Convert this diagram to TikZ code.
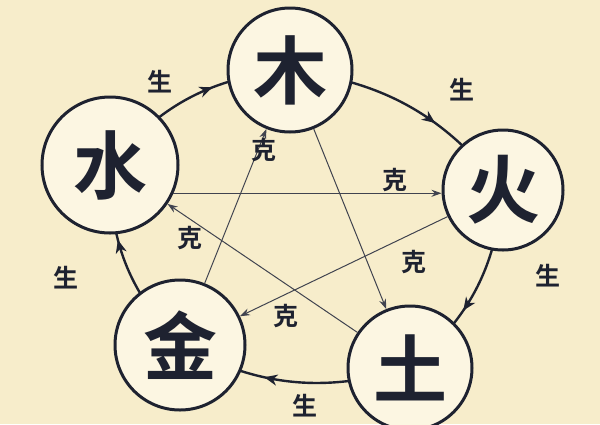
\documentclass[tikz,border=0pt]{standalone}
\usepackage{fontspec}
\newfontfamily\cjk{Noto Sans CJK SC Bold}
\usetikzlibrary{decorations.markings,arrows.meta}
\definecolor{bg}{HTML}{F7EDCB}
\definecolor{cf}{HTML}{FCF6E2}
\definecolor{ink}{HTML}{1E2230}
\begin{document}
\begin{tikzpicture}[x=1pt,y=-1pt,
 elem/.style={circle,draw=ink,line width=3pt,fill=cf,minimum size=#1,inner sep=0pt,font=\cjk\fontsize{74}{74}\selectfont,text=ink},
 ring/.style={line width=2.4pt,ink,postaction={decorate},decoration={markings,mark=at position 0.62 with {\arrow{Stealth[length=13pt,width=11pt,inset=4pt]}}}},
 ke/.style={line width=1pt,ink!85,-{Stealth[length=10pt,width=7pt]}},
 lab/.style={font=\cjk\fontsize{25}{25}\selectfont,text=ink}]
\fill[bg] (0,0) rectangle (600,424);
\clip (0,0) rectangle (600,424);
\path[use as bounding box] (0,0) rectangle (600,424);
\coordinate (cW) at (290,70);
\coordinate (cF) at (503,190);
\coordinate (cE) at (410,368);
\coordinate (cM) at (180,345);
\coordinate (cS) at (110,165);
\draw[ring] (cS) to[bend left=22] (cW);
\draw[ring] (cW) to[bend left=22] (cF);
\draw[ring] (cF) to[bend left=22] (cE);
\draw[ring] (cE) to[bend left=22] (cM);
\draw[ring] (cM) to[bend left=22] (cS);
\node[elem=124pt] (W) at (cW) {木};
\node[elem=120pt] (F) at (cF) {火};
\node[elem=124pt] (E) at (cE) {土};
\node[elem=130pt] (M) at (cM) {金};
\node[elem=136pt] (S) at (cS) {水};
\draw[ke] (W) -- (E);
\draw[ke] (E) -- (S);
\draw[ke] (S.-24) -- (F.west |- S.-24);
\draw[ke] (F) -- (M);
\draw[ke] (M) -- (W);
\node[lab] (g1) at (160,82) {生};
\node[lab] (g2) at (462,90) {生};
\node[lab] (g3) at (548,276) {生};
\node[lab] (g4) at (305,406) {生};
\node[lab] (g5) at (66,278) {生};
\node[lab] (k1) at (264,150) {克};
\node[lab] (k2) at (395,180) {克};
\node[lab] (k3) at (414,262) {克};
\node[lab] (k4) at (190,238) {克};
\node[lab] (k5) at (286,316) {克};
\end{tikzpicture}
\end{document}
